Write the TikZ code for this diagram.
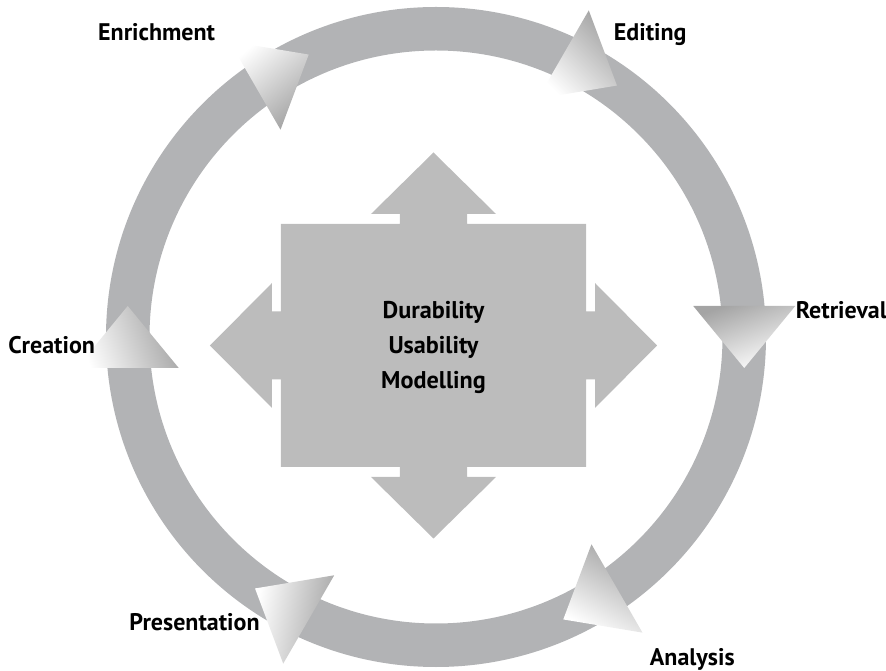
\documentclass[tikz,border=0pt]{standalone}
\usepackage{fontspec}
\newfontfamily\lblfont{PT Sans}
\definecolor{ringgray}{HTML}{B2B3B5}
\definecolor{boxgray}{HTML}{BCBCBC}
\definecolor{tridark}{HTML}{A4A4A4}
\tikzset{
  ringstyle/.style={draw=ringgray, line width=43.5pt},
  centershape/.style={fill=boxgray, draw=none},
  lbl/.style={inner sep=0pt, anchor=base west, font=\lblfont\bfseries\fontsize{24}{29}\selectfont},
  ctext/.style={inner sep=0pt, anchor=base, font=\lblfont\bfseries\fontsize{24.2}{29}\selectfont},
}
\newcommand{\cycletri}[2]{%
  \begin{scope}[shift={(#1:308.25)}, rotate=#1-90]
    \path[left color=white, right color=tridark, shading angle=#2+90]
      (31,0) -- (-31,51) -- (-31,-51) -- cycle;
  \end{scope}}
\begin{document}
\begin{tikzpicture}[x=1pt,y=1pt]
\useasboundingbox (-436,-334) rectangle (450,337);
\coordinate (c) at (0,0);
% ring
\draw[ringstyle] (c) circle (308.25);
% cycle arrowheads
\cycletri{120}{-50}
\cycletri{60}{45}
\cycletri{0}{110}
\cycletri{-60}{60}
\cycletri{-120}{-10}
\cycletri{180}{20}
% central four-way shape
\begin{scope}[shift={(-2.5,-8.5)}]
\coordinate (m) at (0,0);
\path[centershape]
 (-152.5,121.5) -- (-33.5,121.5) -- (-33.5,131.5) -- (-62.5,131.5) -- (0,193)
 -- (62.5,131.5) -- (33.5,131.5) -- (33.5,121.5) -- (152.5,121.5)
 -- (152.5,34) -- (161.5,34) -- (161.5,62.5) -- (223.5,0) -- (161.5,-62.5)
 -- (161.5,-34) -- (152.5,-34) -- (152.5,-121.5) -- (33.5,-121.5)
 -- (33.5,-131.5) -- (62.5,-131.5) -- (0,-193) -- (-62.5,-131.5)
 -- (-33.5,-131.5) -- (-33.5,-121.5) -- (-152.5,-121.5) -- (-152.5,-34)
 -- (-161.5,-34) -- (-161.5,-62.5) -- (-223.5,0) -- (-161.5,62.5)
 -- (-161.5,34) -- (-152.5,34) -- cycle;
\end{scope}
\node[ctext] (dur) at (-2.5,18.7) {Durability};
\node[ctext] (usa) at (-2.5,-16.3) {Usability};
\node[ctext] (mod) at (-2.5,-51.3) {Modelling};
% labels
\node[lbl] (enr) at (-338,296) {Enrichment};
\node[lbl] (edi) at (177.7,296) {Editing};
\node[lbl] (ret) at (359.7,18.7) {Retrieval};
\node[lbl] (cre) at (-427.7,-16.3) {Creation};
\node[lbl] (pre) at (-306.7,-293) {Presentation};
\node[lbl] (ana) at (213.7,-328) {Analysis};
\end{tikzpicture}
\end{document}
